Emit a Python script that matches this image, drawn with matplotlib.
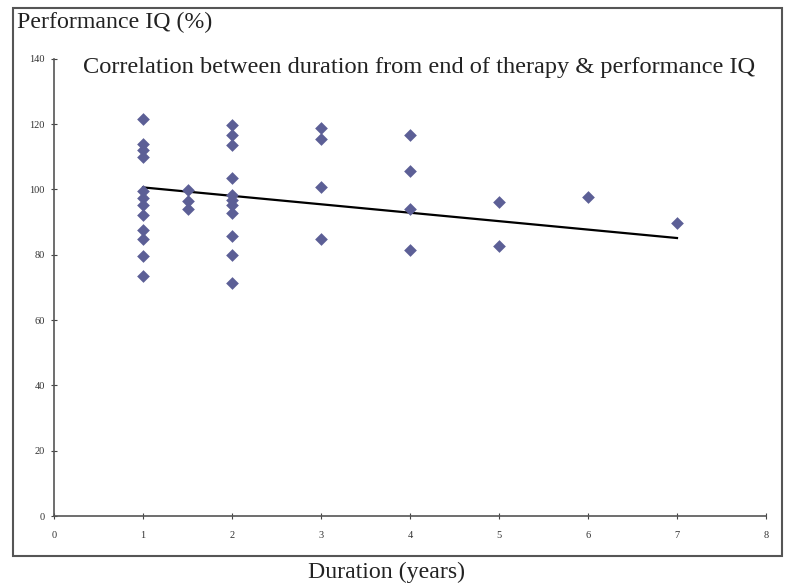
import matplotlib.pyplot as plt
from matplotlib.patches import Rectangle

# Duration from end of therapy (years) and performance IQ (%)
duration = [1, 1, 1, 1, 1, 1, 1, 1, 1, 1, 1, 1,
            1.5, 1.5, 1.5,
            2, 2, 2, 2, 2, 2, 2, 2, 2, 2, 2,
            3, 3, 3, 3,
            4, 4, 4, 4,
            5, 5,
            6,
            7]
perf_iq = [121.4, 114.0, 112.2, 110.0, 99.6, 97.5, 95.3, 92.0, 87.5, 84.8, 79.6, 73.6,
           99.9, 96.4, 93.9,
           119.8, 116.5, 113.5, 103.6, 98.4, 96.8, 95.3, 92.7, 85.8, 79.8, 71.4,
           118.7, 115.4, 100.6, 84.9,
           116.7, 105.7, 94.0, 81.5,
           96.0, 82.8,
           97.6,
           89.8]

# linear trend line as drawn in the original
trend_x = [1, 7]
trend_y = [100.6, 85.1]

x_ticks = [0, 1, 2, 3, 4, 5, 6, 7, 8]
y_ticks = [0, 20, 40, 60, 80, 100, 120, 140]

plt.rcParams['font.family'] = ['Liberation Serif', 'DejaVu Serif']

fig = plt.figure(figsize=(7.99, 5.87), dpi=100, facecolor='white')
ax = fig.add_axes([54/799, 71/587, 712/799, 457.3/587])

ax.scatter(duration, perf_iq, marker='D', s=42, color='#5c5f96', zorder=3, linewidths=0)
ax.plot(trend_x, trend_y, color='black', lw=1.6, zorder=2)

ax.set_xlim(0, 8)
ax.set_ylim(0, 140)
ax.set_xticks(x_ticks)
ax.set_yticks(y_ticks)
ax.tick_params(direction='inout', length=5, width=0.8, labelsize=7.5,
               colors='#444444', labelcolor='#333333')
ax.tick_params(axis='x', pad=8)
ax.tick_params(axis='y', pad=4)
for s in ['top', 'right']:
    ax.spines[s].set_visible(False)
for s in ['left', 'bottom']:
    ax.spines[s].set_color('#555555')
    ax.spines[s].set_linewidth(1.2)

# outer frame
fig.patches.append(Rectangle((13/799, 1 - 556/587), 769/799, 548/587,
                             transform=fig.transFigure, fill=False,
                             edgecolor='#555555', lw=1.5))

fig.text(17/799, 1 - 22/587, 'Performance IQ (%)', fontsize=17.2, va='center', ha='left', color='#222222')
fig.text(419/799, 1 - 68/587, 'Correlation between duration from end of therapy & performance IQ',
         fontsize=17.6, va='center', ha='center', color='#222222')
fig.text(387/799, 1 - 572/587, 'Duration (years)', fontsize=17.2, va='center', ha='center', color='#222222')

fig.savefig('out.png', dpi=100)
